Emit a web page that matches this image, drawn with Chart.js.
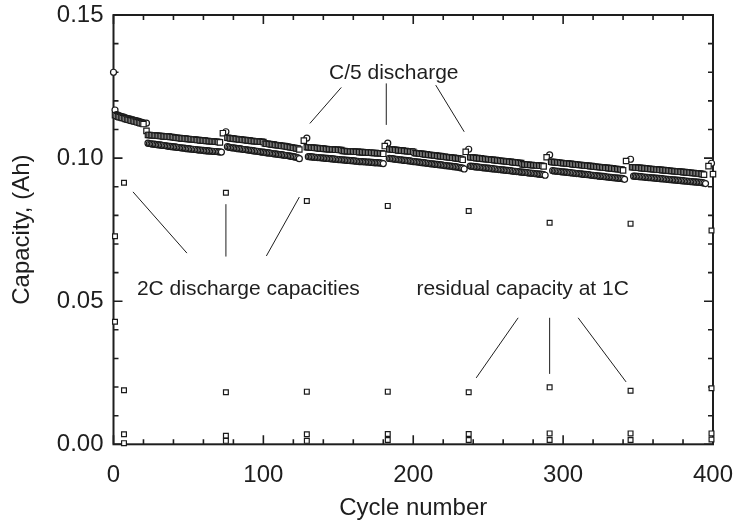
<!DOCTYPE html>
<html>
<head>
<meta charset="utf-8">
<script src="https://cdn.jsdelivr.net/npm/chart.js@4.4.0/dist/chart.umd.min.js"></script>
<style>
  html, body { margin: 0; padding: 0; background: #fff; }
  #wrap { width: 738px; height: 524px; }
</style>
</head>
<body>
<div id="wrap"><canvas id="capChart"></canvas></div>
<script>
// C/5 band, upper run (squares): one value per cycle, each run starts at sqStarts[i]
const sqStarts = [1, 23, 76, 129, 184, 238, 292, 346];
const sqRun1 = [0.1150,0.1147,0.1145,0.1143,0.1142,0.1140,0.1139,0.1137,0.1135,0.1134,0.1132,0.1131,0.1130,0.1128,0.1127,0.1125,0.1124,0.1122,0.1121,0.1119];
const sqRun2 = [0.1081,0.1081,0.1080,0.1080,0.1079,0.1079,0.1078,0.1078,0.1077,0.1077,0.1076,0.1076,0.1075,0.1075,0.1075,0.1074,0.1074,0.1073,
  0.1071,0.1071,0.1070,0.1070,0.1069,0.1069,0.1068,0.1068,0.1067,0.1067,0.1066,0.1066,0.1065,0.1065,0.1064,
  0.1063,0.1063,0.1062,0.1062,0.1061,0.1061,0.1060,0.1060,0.1059,0.1059,0.1058,0.1058,0.1057,0.1057,0.1056,0.1055];
const sqRun3 = [0.1071,0.1070,0.1069,0.1069,0.1068,0.1067,0.1067,0.1066,0.1065,0.1065,0.1064,0.1063,0.1063,0.1062,0.1062,0.1061,0.1060,0.1060,0.1059,0.1059,0.1058,0.1058,0.1057,0.1057,0.1056,
  0.1051,0.1050,0.1050,0.1049,0.1048,0.1048,0.1047,0.1046,0.1045,0.1045,0.1044,0.1043,0.1042,0.1042,0.1041,0.1040,0.1039,0.1038,0.1037,0.1036,0.1035,0.1034,0.1033,0.1030];
const sqRun4 = [0.1038,0.1038,0.1037,0.1037,0.1036,0.1036,0.1035,0.1035,0.1034,0.1034,0.1033,0.1033,0.1032,0.1032,0.1031,0.1031,0.1031,0.1030,0.1030,0.1029,0.1029,0.1029,0.1028,0.1028,
  0.1025,0.1025,0.1024,0.1024,0.1024,0.1023,0.1023,0.1023,0.1022,0.1022,0.1022,0.1021,0.1021,0.1021,0.1020,0.1020,0.1020,0.1019,0.1019,0.1019,0.1018,0.1018,0.1018,0.1017,0.1017,0.1017,0.1016,0.1015];
const sqRun5 = [0.1031,0.1030,0.1030,0.1029,0.1029,0.1028,0.1027,0.1027,0.1026,0.1026,0.1025,0.1025,0.1024,0.1024,0.1023,0.1023,0.1022,
  0.1018,0.1017,0.1017,0.1016,0.1015,0.1015,0.1014,0.1013,0.1013,0.1012,0.1011,0.1011,0.1010,0.1009,0.1009,0.1008,0.1007,0.1007,0.1006,0.1005,0.1005,0.1004,0.1003,0.1003,0.1002,0.1001,0.1001,0.1000,0.0999,0.0999,0.0998,0.0997,0.0994];
const sqRun6 = [0.1003,0.1002,0.1002,0.1001,0.1000,0.1000,0.0999,0.0999,0.0998,0.0997,0.0997,0.0996,0.0996,0.0995,0.0994,0.0994,0.0993,0.0993,0.0992,0.0991,0.0991,0.0990,0.0990,0.0989,0.0988,0.0988,0.0987,0.0987,0.0986,0.0985,0.0985,0.0984,0.0984,0.0983,0.0983,
  0.0978,0.0978,0.0977,0.0977,0.0977,0.0976,0.0976,0.0975,0.0975,0.0975,0.0974,0.0974,0.0973,0.0973,0.0971];
const sqRun7 = [0.0987,0.0986,0.0986,0.0985,0.0985,0.0984,0.0984,0.0983,0.0982,0.0982,0.0981,0.0981,0.0980,0.0980,0.0979,0.0978,0.0978,0.0977,0.0977,0.0976,
  0.0976,0.0975,0.0974,0.0974,0.0973,0.0973,0.0972,0.0972,0.0971,0.0970,0.0970,0.0969,0.0969,0.0968,0.0968,0.0967,0.0966,0.0966,0.0965,0.0965,
  0.0964,0.0964,0.0963,0.0962,0.0962,0.0961,0.0961,0.0960,0.0957];
const sqRun8 = [0.0968,0.0968,0.0967,0.0967,0.0966,0.0966,0.0965,0.0965,0.0964,0.0964,0.0963,0.0963,0.0962,0.0962,0.0961,0.0961,0.0960,0.0960,0.0959,0.0959,
  0.0958,0.0958,0.0957,0.0957,0.0956,0.0956,0.0955,0.0955,0.0954,0.0954,0.0953,0.0953,0.0952,0.0952,0.0951,0.0951,0.0950,0.0950,0.0949,0.0949,
  0.0948,0.0948,0.0947,0.0947,0.0946,0.0946,0.0945,0.0944,0.0942];
// single squares at the check-up cycles
const sqCheckCycles = [22, 73, 127, 181, 235, 289, 342, 397, 400];
const sqCheckCap = [0.1095, 0.1087, 0.1061, 0.1042, 0.1022, 0.1003, 0.0990, 0.0972, 0.0944];

// C/5 band, lower run (circles)
const ciStarts = [2, 23, 76, 130, 184, 238, 293, 347];
const ciRun1 = [0.1152,0.1150,0.1148,0.1146,0.1144,0.1143,0.1141,0.1139,0.1138,0.1136,0.1135,0.1134,0.1132,0.1131,0.1129,0.1128,0.1126,0.1125,0.1123];
const ciRun2 = [0.1052,0.1051,0.1050,0.1049,0.1049,0.1048,0.1047,0.1046,0.1046,0.1045,0.1044,0.1044,0.1043,0.1042,0.1041,0.1041,0.1040,0.1039,0.1039,0.1038,
  0.1037,0.1037,0.1036,0.1035,0.1035,0.1034,0.1033,0.1033,0.1032,0.1031,0.1031,0.1030,0.1030,0.1029,0.1028,0.1028,0.1027,0.1027,0.1026,0.1026,
  0.1025,0.1025,0.1024,0.1024,0.1023,0.1023,0.1023,0.1022,0.1022,0.1021];
const ciRun3 = [0.1040,0.1038,0.1037,0.1036,0.1036,0.1035,0.1034,0.1033,0.1033,0.1032,0.1031,0.1030,0.1030,0.1029,0.1028,0.1027,0.1027,0.1026,0.1025,0.1024,
  0.1024,0.1023,0.1022,0.1021,0.1021,0.1020,0.1019,0.1018,0.1018,0.1017,0.1016,0.1015,0.1015,0.1014,0.1013,0.1012,0.1012,0.1011,0.1010,0.1009,
  0.1009,0.1008,0.1007,0.1006,0.1005,0.1004,0.1003,0.1001,0.0998];
const ciRun4 = [0.1005,0.1005,0.1004,0.1004,0.1003,0.1003,0.1002,0.1002,0.1001,0.1001,0.1000,0.1000,0.0999,0.0999,0.0998,0.0998,0.0997,0.0997,0.0996,0.0996,
  0.0995,0.0995,0.0994,0.0994,0.0993,0.0993,0.0992,0.0992,0.0991,0.0991,0.0990,0.0990,0.0989,0.0989,0.0988,0.0988,0.0988,0.0987,0.0987,0.0986,
  0.0986,0.0986,0.0985,0.0985,0.0984,0.0984,0.0984,0.0983,0.0983,0.0982,0.0981];
const ciRun5 = [0.0999,0.0998,0.0998,0.0997,0.0996,0.0996,0.0995,0.0994,0.0994,0.0993,0.0992,0.0992,0.0991,0.0990,0.0990,0.0989,0.0988,0.0988,0.0987,0.0986,
  0.0986,0.0985,0.0984,0.0984,0.0983,0.0982,0.0982,0.0981,0.0980,0.0980,0.0979,0.0978,0.0978,0.0977,0.0976,0.0976,0.0975,0.0974,0.0974,0.0973,
  0.0972,0.0972,0.0971,0.0970,0.0970,0.0969,0.0968,0.0967,0.0966,0.0965,0.0962];
const ciRun6 = [0.0972,0.0971,0.0971,0.0970,0.0969,0.0969,0.0968,0.0968,0.0967,0.0966,0.0966,0.0965,0.0965,0.0964,0.0963,0.0963,0.0962,0.0962,0.0961,0.0960,
  0.0960,0.0959,0.0959,0.0958,0.0957,0.0957,0.0956,0.0956,0.0955,0.0954,0.0954,0.0953,0.0953,0.0952,0.0951,0.0951,0.0950,0.0950,0.0949,0.0948,
  0.0948,0.0947,0.0947,0.0946,0.0945,0.0945,0.0944,0.0944,0.0943,0.0942,0.0940];
const ciRun7 = [0.0956,0.0955,0.0955,0.0954,0.0954,0.0953,0.0952,0.0952,0.0951,0.0951,0.0950,0.0949,0.0949,0.0948,0.0948,0.0947,0.0946,0.0946,0.0945,0.0945,
  0.0944,0.0943,0.0943,0.0942,0.0942,0.0941,0.0940,0.0940,0.0939,0.0939,0.0938,0.0937,0.0937,0.0936,0.0936,0.0935,0.0934,0.0934,0.0933,0.0933,
  0.0932,0.0931,0.0931,0.0930,0.0930,0.0929,0.0929,0.0928,0.0926];
const ciRun8 = [0.0937,0.0937,0.0936,0.0936,0.0935,0.0935,0.0934,0.0934,0.0933,0.0933,0.0932,0.0932,0.0931,0.0931,0.0930,0.0930,0.0929,0.0929,0.0928,0.0928,
  0.0927,0.0927,0.0926,0.0926,0.0925,0.0925,0.0924,0.0924,0.0923,0.0923,0.0922,0.0922,0.0921,0.0921,0.0920,0.0920,0.0919,0.0919,0.0918,0.0918,
  0.0917,0.0917,0.0916,0.0916,0.0915,0.0915,0.0914,0.0913,0.0911];
const ciCheckCycles = [0, 1, 22, 75, 129, 183, 237, 291, 345, 399];
const ciCheckCap = [0.1300, 0.1168, 0.1122, 0.1092, 0.1070, 0.1052, 0.1031, 0.1011, 0.0996, 0.0982];

// check-up cycles: 2C discharge, residual at 1C and the two near-zero readings
const checkCycles = [7, 75, 129, 183, 237, 291, 345, 399];
const cap2C = [0.0914, 0.0879, 0.0850, 0.0833, 0.0815, 0.0774, 0.0771, 0.0747];
const capResidual = [0.0189, 0.0182, 0.0184, 0.0184, 0.0182, 0.0199, 0.0187, 0.0196];
const capLowA = [0.0035, 0.0030, 0.0035, 0.0036, 0.0036, 0.0038, 0.0038, 0.0038];
const capLowB = [0.0004, 0.0012, 0.0012, 0.0015, 0.0015, 0.0015, 0.0015, 0.0017];
const firstCycles = [1, 1];
const firstCap = [0.0727, 0.0428];

const xTicks = [0, 100, 200, 300, 400];
const yTicks = [0, 0.05, 0.10, 0.15];

function runPoints(starts, runs, checkX, checkY) {
  const pts = [];
  runs.forEach((run, i) => run.forEach((v, j) => pts.push({ x: starts[i] + j, y: v })));
  checkX.forEach((c, i) => pts.push({ x: c, y: checkY[i] }));
  return pts.sort((a, b) => a.x - b.x);
}
const pairs = (xs, ys) => ys.map((v, i) => ({ x: xs[i], y: v }));

const squarePts = runPoints(sqStarts, [sqRun1, sqRun2, sqRun3, sqRun4, sqRun5, sqRun6, sqRun7, sqRun8], sqCheckCycles, sqCheckCap);
const circlePts = runPoints(ciStarts, [ciRun1, ciRun2, ciRun3, ciRun4, ciRun5, ciRun6, ciRun7, ciRun8], ciCheckCycles, ciCheckCap);
const openPts = pairs(firstCycles, firstCap)
  .concat(pairs(checkCycles, cap2C), pairs(checkCycles, capResidual), pairs(checkCycles, capLowA), pairs(checkCycles, capLowB));

// labels with their pointer lines, in data units
const notes = [
  { text: 'C/5 discharge', x: 187, y: 0.1296, lines: [[152, 0.1247, 131, 0.1121], [182, 0.1261, 182, 0.1116], [215, 0.1255, 234, 0.1092]] },
  { text: '2C discharge capacities', x: 90, y: 0.0543, lines: [[13, 0.0882, 49, 0.0668], [75, 0.0839, 75, 0.0656], [124, 0.0864, 102, 0.0658]] },
  { text: 'residual capacity at 1C', x: 273, y: 0.0543, lines: [[270, 0.0442, 242, 0.0232], [291, 0.0442, 291, 0.0246], [310, 0.0442, 342, 0.0218]] }
];

const INK = '#1e1e1e';
Chart.defaults.font.family = "'Liberation Sans', Arial, sans-serif";
Chart.defaults.color = INK;

const frameAndNotes = {
  id: 'frameAndNotes',
  beforeDatasetsDraw(chart) {
    const { ctx, chartArea: a, scales: { x, y } } = chart;
    ctx.save();
    ctx.strokeStyle = INK;
    ctx.lineWidth = 2;
    ctx.strokeRect(a.left, a.top, a.right - a.left, a.bottom - a.top);
    ctx.lineWidth = 1.6;
    ctx.beginPath();
    for (let v = 0; v <= 400; v += 20) {
      const px = x.getPixelForValue(v);
      const len = v % 100 === 0 ? 9 : 5;
      ctx.moveTo(px, a.bottom); ctx.lineTo(px, a.bottom - len);
      ctx.moveTo(px, a.top); ctx.lineTo(px, a.top + len);
    }
    for (let i = 0; i <= 15; i++) {
      const py = y.getPixelForValue(i / 100);
      const len = i % 5 === 0 ? 9 : 5;
      ctx.moveTo(a.left, py); ctx.lineTo(a.left + len, py);
      ctx.moveTo(a.right, py); ctx.lineTo(a.right - len, py);
    }
    ctx.stroke();
    ctx.restore();
  },
  afterDatasetsDraw(chart) {
    const { ctx, scales: { x, y } } = chart;
    ctx.save();
    ctx.strokeStyle = INK;
    ctx.lineWidth = 1;
    ctx.fillStyle = INK;
    ctx.font = "21px 'Liberation Sans', Arial, sans-serif";
    ctx.textAlign = 'center';
    ctx.textBaseline = 'middle';
    notes.forEach(n => {
      ctx.fillText(n.text, x.getPixelForValue(n.x), y.getPixelForValue(n.y));
      ctx.beginPath();
      n.lines.forEach(l => {
        ctx.moveTo(x.getPixelForValue(l[0]), y.getPixelForValue(l[1]));
        ctx.lineTo(x.getPixelForValue(l[2]), y.getPixelForValue(l[3]));
      });
      ctx.stroke();
    });
    ctx.restore();
  }
};

const markerBase = { showLine: false, clip: false, borderWidth: 1.2, borderColor: '#1a1a1a', backgroundColor: '#fff', pointHoverRadius: 0 };

new Chart(document.getElementById('capChart'), {
  type: 'scatter',
  data: {
    datasets: [
      Object.assign({ label: 'C/5 (upper)', data: squarePts, pointStyle: 'rect', pointRadius: 3.8 }, markerBase),
      Object.assign({ label: 'C/5 (lower)', data: circlePts, pointStyle: 'circle', pointRadius: 3.0 }, markerBase),
      Object.assign({ label: 'check-up', data: openPts, pointStyle: 'rect', pointRadius: 3.4, borderWidth: 1 }, markerBase)
    ]
  },
  options: {
    responsive: true,
    maintainAspectRatio: false,
    animation: false,
    events: [],
    layout: { padding: { top: 15, right: 25, left: 0, bottom: 0 } },
    plugins: { legend: { display: false }, tooltip: { enabled: false } },
    scales: {
      x: {
        type: 'linear', min: 0, max: 400,
        afterFit: s => { s.height = 79.7; s.paddingLeft = 0; s.paddingRight = 0; },
        afterBuildTicks: s => { s.ticks = xTicks.map(v => ({ value: v })); },
        grid: { display: false, drawTicks: false },
        border: { display: false },
        ticks: { padding: 19, font: { size: 24, lineHeight: 1 }, color: INK },
        title: { display: true, text: 'Cycle number', font: { size: 24, lineHeight: 1 }, color: INK, padding: { top: 0, bottom: 4 } }
      },
      y: {
        type: 'linear', min: 0, max: 0.15,
        afterFit: s => { s.width = 113.5; s.paddingTop = 0; s.paddingBottom = 0; },
        afterBuildTicks: s => { s.ticks = yTicks.map(v => ({ value: v })); },
        grid: { display: false, drawTicks: false },
        border: { display: false },
        ticks: { padding: 10, font: { size: 24, lineHeight: 1 }, color: INK, callback: v => v.toFixed(2) },
        title: { display: true, text: 'Capacity, (Ah)', font: { size: 24, lineHeight: 1 }, color: INK, padding: { top: 10, bottom: 0 } }
      }
    }
  },
  plugins: [frameAndNotes]
});
</script>
</body>
</html>
